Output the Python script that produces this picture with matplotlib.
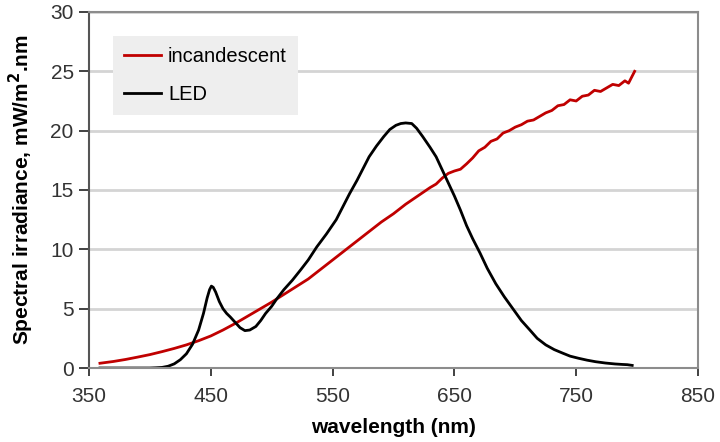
import matplotlib.pyplot as plt

plt.rcParams['font.family'] = ['Liberation Sans', 'DejaVu Sans']

# incandescent lamp spectrum
inc_nm = [359, 370, 380, 390, 400, 410, 420, 430, 440, 450, 460, 470, 480, 490,
          500, 510, 520, 530, 540, 550, 560, 570, 580, 590, 600, 610, 620, 630,
          635, 640, 645, 650, 655, 660, 665, 670, 675, 680, 685, 690, 695, 700,
          705, 710, 715, 720, 725, 730, 735, 740, 745, 750, 755, 760, 765, 770,
          775, 780, 785, 790, 793, 796, 798]
inc_val = [0.4, 0.55, 0.72, 0.92, 1.13, 1.38, 1.65, 1.95, 2.3, 2.7, 3.2, 3.75, 4.35, 4.95,
           5.55, 6.2, 6.85, 7.5, 8.3, 9.1, 9.9, 10.7, 11.5, 12.3, 13.0, 13.8, 14.5, 15.2,
           15.5, 16.0, 16.4, 16.6, 16.75, 17.2, 17.7, 18.3, 18.6, 19.1, 19.3, 19.8, 20.0, 20.3,
           20.5, 20.8, 20.9, 21.2, 21.5, 21.7, 22.1, 22.2, 22.6, 22.5, 22.9, 23.0, 23.4, 23.3,
           23.6, 23.9, 23.8, 24.2, 24.0, 24.6, 25.0]

# LED spectrum
led_nm = [359, 380, 400, 405, 410, 415, 420, 425, 430, 435, 440, 444, 447, 449, 450.5,
          452, 454, 457, 460, 463, 466, 470, 474, 478, 482, 487, 491, 495, 500, 504,
          510, 517, 524, 530, 537, 545, 553, 558, 564, 570, 575, 580, 586, 592, 597,
          602, 606, 610, 615, 619, 624, 630, 635, 640, 645, 650, 655, 660, 665, 671,
          677, 684, 691, 698, 705, 712, 718, 725, 732, 739, 745, 752, 759, 766, 774,
          782, 788, 792, 796]
led_val = [0, 0, 0, 0.02, 0.05, 0.15, 0.35, 0.7, 1.2, 2.0, 3.2, 4.6, 5.9, 6.6, 6.9,
           6.8, 6.4, 5.6, 5.0, 4.6, 4.3, 3.85, 3.4, 3.15, 3.2, 3.5, 4.0, 4.6, 5.2, 5.8,
           6.6, 7.4, 8.3, 9.1, 10.2, 11.3, 12.5, 13.5, 14.7, 15.8, 16.8, 17.8, 18.7, 19.5, 20.1,
           20.45, 20.6, 20.65, 20.6, 20.2, 19.5, 18.6, 17.8, 16.7, 15.6, 14.5, 13.3, 12.0, 10.9, 9.7,
           8.4, 7.1, 6.0, 5.0, 4.0, 3.2, 2.5, 1.95, 1.55, 1.25, 1.0, 0.82, 0.66, 0.53, 0.42,
           0.34, 0.3, 0.28, 0.22]

x_ticks = [350, 450, 550, 650, 750, 850]
y_ticks = [0, 5, 10, 15, 20, 25, 30]

fig = plt.figure(figsize=(7.2, 4.42), dpi=100)
ax = fig.add_axes([0.1236, 0.1674, 0.8458, 0.8055])

ax.plot(inc_nm, inc_val, color='#c00000', lw=2.0, label='incandescent', solid_joinstyle='round')
ax.plot(led_nm, led_val, color='black', lw=2.0, label='LED', solid_joinstyle='round')

ax.set_xlim(350, 850)
ax.set_ylim(0, 30)
ax.set_xticks(x_ticks)
ax.set_yticks(y_ticks)
ax.yaxis.grid(True, color='#d4d4d4', lw=2.0)
ax.set_axisbelow(True)

for side in ['top', 'right', 'bottom']:
    ax.spines[side].set_color('#8c8c8c')
    ax.spines[side].set_linewidth(1.5)
ax.spines['left'].set_color('#555555')
ax.spines['left'].set_linewidth(1.5)

ax.tick_params(axis='both', labelsize=15, colors='#333333', width=1.3)
ax.tick_params(axis='y', length=7, pad=4)
ax.tick_params(axis='x', length=6, pad=8)

ax.set_xlabel('wavelength (nm)', fontsize=15, fontweight='bold', labelpad=8)
ax.set_ylabel('Spectral irradiance, mW/m$^\\mathbf{2}$.nm', fontsize=15, fontweight='bold', labelpad=10)

leg = ax.legend(loc='upper left', bbox_to_anchor=(0.039, 0.933), fontsize=14.5,
                frameon=True, fancybox=False, framealpha=1, facecolor='#eeeeee',
                edgecolor='none', handlelength=1.85, handletextpad=0.35,
                labelspacing=0.95, borderpad=0.55, borderaxespad=0)

fig.savefig('out.png', dpi=100)
